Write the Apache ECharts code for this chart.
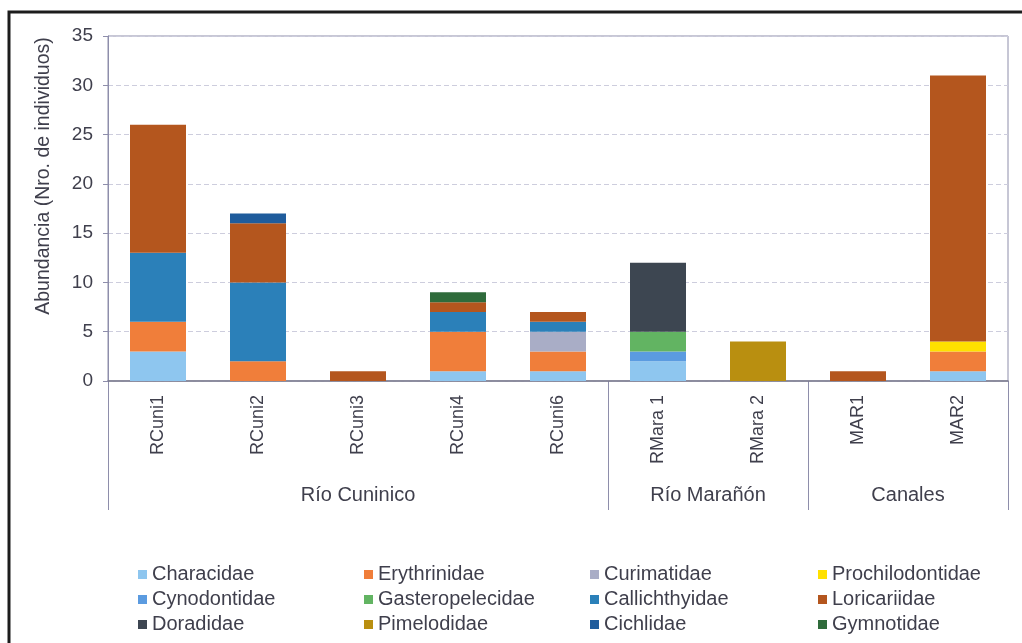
<!DOCTYPE html>
<html>
<head>
<meta charset="utf-8">
<script src="https://cdn.jsdelivr.net/npm/echarts@6/dist/echarts.min.js"></script>
<style>
  html, body { margin: 0; padding: 0; background: #fff; }
  #chart { width: 1022px; height: 643px; }
</style>
</head>
<body>
<div id="chart"></div>
<script>
// Sampling sites (category axis) and their river groups
const sites = ['RCuni1', 'RCuni2', 'RCuni3', 'RCuni4', 'RCuni6', 'RMara 1', 'RMara 2', 'MAR1', 'MAR2'];
const groupNames = ['Río Cuninico', 'Río Marañón', 'Canales'];
const groupSizes = [5, 2, 2];

// Abundance (number of individuals) per family at each site
const characidae       = [3, 0, 0, 1, 1, 2, 0, 0, 1];
const erythrinidae     = [3, 2, 0, 4, 2, 0, 0, 0, 2];
const curimatidae      = [0, 0, 0, 0, 2, 0, 0, 0, 0];
const prochilodontidae = [0, 0, 0, 0, 0, 0, 0, 0, 1];
const cynodontidae     = [0, 0, 0, 0, 0, 1, 0, 0, 0];
const gasteropelecidae = [0, 0, 0, 0, 0, 2, 0, 0, 0];
const callichthyidae   = [7, 8, 0, 2, 1, 0, 0, 0, 0];
const loricariidae     = [13, 6, 1, 1, 1, 0, 0, 1, 27];
const doradidae        = [0, 0, 0, 0, 0, 7, 0, 0, 0];
const pimelodidae      = [0, 0, 0, 0, 0, 0, 4, 0, 0];
const cichlidae        = [0, 1, 0, 0, 0, 0, 0, 0, 0];
const gymnotidae       = [0, 0, 0, 1, 0, 0, 0, 0, 0];

// Y axis ticks
const yMin = 0, yMax = 35, yStep = 5;

const families = [
  { name: 'Characidae',       data: characidae,       color: '#8ec6ef' },
  { name: 'Erythrinidae',     data: erythrinidae,     color: '#f07e3a' },
  { name: 'Curimatidae',      data: curimatidae,      color: '#a9adc6' },
  { name: 'Prochilodontidae', data: prochilodontidae, color: '#ffe000' },
  { name: 'Cynodontidae',     data: cynodontidae,     color: '#5b9be0' },
  { name: 'Gasteropelecidae', data: gasteropelecidae, color: '#62b462' },
  { name: 'Callichthyidae',   data: callichthyidae,   color: '#2b80b9' },
  { name: 'Loricariidae',     data: loricariidae,     color: '#b4561e' },
  { name: 'Doradidae',        data: doradidae,        color: '#3d4651' },
  { name: 'Pimelodidae',      data: pimelodidae,      color: '#b98f10' },
  { name: 'Cichlidae',        data: cichlidae,        color: '#1f5c9c' },
  { name: 'Gymnotidae',       data: gymnotidae,       color: '#2f6b3b' }
];

const FONT = 'Liberation Sans, Arial, sans-serif';
const TEXT = '#3f3f4c';
const FRAME = '#8e8eab';

// Legend laid out in four columns of three entries
const legendCols = [0, 1, 2, 3].map(c => [0, 1, 2].map(r => families[r * 4 + c].name));
const legendLeft = [138, 364, 590, 818];

const chart = echarts.init(document.getElementById('chart'), null, { renderer: 'canvas' });

chart.setOption({
  animation: false,
  backgroundColor: '#fff',
  grid: {
    left: 108, right: 14, top: 36, bottom: 262,
    show: true, borderColor: FRAME, borderWidth: 1, backgroundColor: 'transparent'
  },
  legend: legendCols.map((names, i) => ({
    data: names,
    orient: 'vertical',
    left: legendLeft[i],
    top: 564,
    icon: 'rect',
    itemWidth: 9,
    itemHeight: 9,
    itemGap: 4,
    padding: 0,
    selectedMode: false,
    textStyle: { fontFamily: FONT, fontSize: 20, color: TEXT, lineHeight: 21, padding: [0, 0, 0, 0] }
  })),
  xAxis: {
    type: 'category',
    data: sites,
    boundaryGap: true,
    axisLine: { show: true, lineStyle: { color: '#7a7a8c', width: 1.5 } },
    axisTick: { show: false },
    axisLabel: {
      rotate: 90, margin: 14, fontFamily: FONT, fontSize: 18, color: TEXT, interval: 0
    },
    splitLine: { show: false }
  },
  yAxis: {
    type: 'value',
    min: yMin, max: yMax, interval: yStep,
    axisLine: { show: true, lineStyle: { color: FRAME } },
    axisTick: { show: true, length: 5, lineStyle: { color: FRAME } },
    axisLabel: { margin: 15, fontFamily: FONT, fontSize: 19, color: TEXT },
    splitLine: { show: true, lineStyle: { color: '#cdcddd', type: [5, 3], width: 1 } }
  },
  series: families.map(f => ({
    name: f.name,
    type: 'bar',
    stack: 'total',
    barWidth: '56%',
    data: f.data,
    itemStyle: { color: f.color },
    emphasis: { disabled: true }
  }))
});

// Multi-level category frame: separators and river-group labels
function drawGroups() {
  const c0 = chart.convertToPixel({ xAxisIndex: 0 }, 0);
  const c1 = chart.convertToPixel({ xAxisIndex: 0 }, 1);
  const band = c1 - c0;
  const yBase = chart.convertToPixel({ yAxisIndex: 0 }, 0);
  const yEnd = yBase + 129;
  const elements = [];
  let start = 0;
  const edges = [start];
  groupSizes.forEach(n => { start += n; edges.push(start); });
  edges.forEach(e => {
    const x = Math.round(c0 - band / 2 + e * band) + 0.5;
    elements.push({
      type: 'line', silent: true,
      shape: { x1: x, y1: yBase, x2: x, y2: yEnd },
      style: { stroke: FRAME, lineWidth: 1 }
    });
  });
  groupNames.forEach((name, i) => {
    const mid = c0 - band / 2 + (edges[i] + edges[i + 1]) / 2 * band;
    elements.push({
      type: 'text', silent: true,
      x: mid, y: yBase + 114,
      style: { text: name, fontFamily: FONT, fontSize: 20, fill: TEXT, align: 'center', verticalAlign: 'middle' }
    });
  });
  // Y axis title
  elements.push({
    type: 'text', silent: true,
    x: 44, y: 176, rotation: Math.PI / 2,
    style: { text: 'Abundancia (Nro. de individuos)', fontFamily: FONT, fontSize: 19.5, fill: TEXT, align: 'center', verticalAlign: 'middle' }
  });
  // Outer frame around the figure
  elements.push({
    type: 'rect', silent: true,
    shape: { x: 9, y: 12, width: 1100, height: 700 },
    style: { fill: null, stroke: '#1c1c1c', lineWidth: 3 }
  });
  chart.setOption({ graphic: { elements: elements } });
}
drawGroups();
</script>
</body>
</html>
